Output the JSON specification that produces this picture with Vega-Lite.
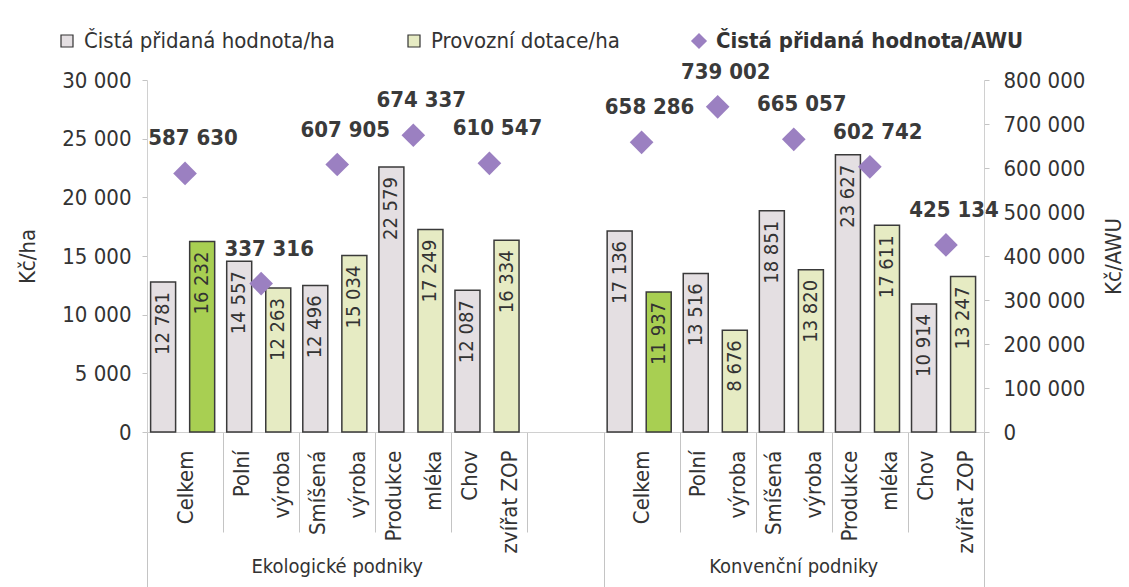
{
  "$schema": "https://vega.github.io/schema/vega-lite/v6.json",
  "width": 837,
  "height": 352,
  "autosize": {"type": "none"},
  "padding": {"left": 147, "top": 80, "right": 145, "bottom": 155},
  "background": "white",
  "config": {
    "font": "DejaVu Sans Condensed, DejaVu Sans, sans-serif",
    "view": {"stroke": null},
    "axis": {
      "labelFont": "DejaVu Sans Condensed, DejaVu Sans, sans-serif",
      "titleFont": "DejaVu Sans Condensed, DejaVu Sans, sans-serif",
      "labelColor": "#333333",
      "titleColor": "#333333",
      "labelFontSize": 22,
      "titleFontSize": 22,
      "titleFontWeight": "normal",
      "grid": false,
      "domainColor": "#cccccc",
      "tickColor": "#c4c4c4"
    }
  },
  "datasets": {
    "bars": [
      {"kat": "E|Celkem", "cat": "Celkem", "series": "Čistá přidaná hodnota/ha", "value": 12781},
      {"kat": "E|Celkem", "cat": "Celkem", "series": "Provozní dotace/ha", "value": 16232},
      {"kat": "E|Polní|výroba", "cat": "Polní výroba", "series": "Čistá přidaná hodnota/ha", "value": 14557},
      {"kat": "E|Polní|výroba", "cat": "Polní výroba", "series": "Provozní dotace/ha", "value": 12263},
      {"kat": "E|Smíšená|výroba", "cat": "Smíšená výroba", "series": "Čistá přidaná hodnota/ha", "value": 12496},
      {"kat": "E|Smíšená|výroba", "cat": "Smíšená výroba", "series": "Provozní dotace/ha", "value": 15034},
      {"kat": "E|Produkce|mléka", "cat": "Produkce mléka", "series": "Čistá přidaná hodnota/ha", "value": 22579},
      {"kat": "E|Produkce|mléka", "cat": "Produkce mléka", "series": "Provozní dotace/ha", "value": 17249},
      {"kat": "E|Chov|zvířat ZOP", "cat": "Chov zvířat ZOP", "series": "Čistá přidaná hodnota/ha", "value": 12087},
      {"kat": "E|Chov|zvířat ZOP", "cat": "Chov zvířat ZOP", "series": "Provozní dotace/ha", "value": 16334},
      {"kat": "K|Celkem", "cat": "Celkem", "series": "Čistá přidaná hodnota/ha", "value": 17136},
      {"kat": "K|Celkem", "cat": "Celkem", "series": "Provozní dotace/ha", "value": 11937},
      {"kat": "K|Polní|výroba", "cat": "Polní výroba", "series": "Čistá přidaná hodnota/ha", "value": 13516},
      {"kat": "K|Polní|výroba", "cat": "Polní výroba", "series": "Provozní dotace/ha", "value": 8676},
      {"kat": "K|Smíšená|výroba", "cat": "Smíšená výroba", "series": "Čistá přidaná hodnota/ha", "value": 18851},
      {"kat": "K|Smíšená|výroba", "cat": "Smíšená výroba", "series": "Provozní dotace/ha", "value": 13820},
      {"kat": "K|Produkce|mléka", "cat": "Produkce mléka", "series": "Čistá přidaná hodnota/ha", "value": 23627},
      {"kat": "K|Produkce|mléka", "cat": "Produkce mléka", "series": "Provozní dotace/ha", "value": 17611},
      {"kat": "K|Chov|zvířat ZOP", "cat": "Chov zvířat ZOP", "series": "Čistá přidaná hodnota/ha", "value": 10914},
      {"kat": "K|Chov|zvířat ZOP", "cat": "Chov zvířat ZOP", "series": "Provozní dotace/ha", "value": 13247}
    ],
    "awu": [
      {"kat": "E|Celkem", "series": "Čistá přidaná hodnota/AWU", "awu": 587630},
      {"kat": "E|Polní|výroba", "series": "Čistá přidaná hodnota/AWU", "awu": 337316},
      {"kat": "E|Smíšená|výroba", "series": "Čistá přidaná hodnota/AWU", "awu": 607905},
      {"kat": "E|Produkce|mléka", "series": "Čistá přidaná hodnota/AWU", "awu": 674337},
      {"kat": "E|Chov|zvířat ZOP", "series": "Čistá přidaná hodnota/AWU", "awu": 610547},
      {"kat": "K|Celkem", "series": "Čistá přidaná hodnota/AWU", "awu": 658286},
      {"kat": "K|Polní|výroba", "series": "Čistá přidaná hodnota/AWU", "awu": 739002},
      {"kat": "K|Smíšená|výroba", "series": "Čistá přidaná hodnota/AWU", "awu": 665057},
      {"kat": "K|Produkce|mléka", "series": "Čistá přidaná hodnota/AWU", "awu": 602742},
      {"kat": "K|Chov|zvířat ZOP", "series": "Čistá přidaná hodnota/AWU", "awu": 425134}
    ],
    "groups": [
      {"skupina": "Ekologické podniky"},
      {"skupina": "Konvenční podniky"}
    ]
  },
  "layer": [
    {
      "layer": [
        {
          "data": {"name": "bars"},
          "layer": [
            {
              "mark": {"type": "bar", "stroke": "#3a3a3a", "strokeWidth": 1.5},
              "encoding": {
                "x": {
                  "field": "kat", "type": "nominal",
                  "scale": {"domain": ["E|Celkem", "E|Polní|výroba", "E|Smíšená|výroba", "E|Produkce|mléka", "E|Chov|zvířat ZOP", "gap", "K|Celkem", "K|Polní|výroba", "K|Smíšená|výroba", "K|Produkce|mléka", "K|Chov|zvířat ZOP"], "paddingInner": 0, "paddingOuter": 0},
                  "axis": {
                    "orient": "bottom", "title": null, "domain": true, "domainColor": "#d0d0d0",
                    "tickBand": "extent", "tickSize": 100, "tickColor": "#c4c4c4", "tickWidth": 1,
                    "labelAngle": -90, "labelAlign": "right", "labelBaseline": "middle",
                    "labelPadding": -82, "labelLineHeight": 40, "labelOffset": -20, "labelOverlap": false, "labelBound": false,
                    "labelExpr": "!isString(datum.value) || datum.value == 'gap' || length(split(datum.value, '|')) < 3 ? '' : [split(datum.value, '|')[1], split(datum.value, '|')[2]]"
                  }
                },
                "xOffset": {"field": "series", "type": "nominal", "scale": {"domain": ["Čistá přidaná hodnota/ha", "Provozní dotace/ha"], "paddingInner": 0.36, "paddingOuter": 0.154, "align": 0.3}},
                "y": {
                  "field": "value", "type": "quantitative",
                  "scale": {"domain": [0, 30000], "nice": false},
                  "axis": {"orient": "left", "title": "Kč/ha", "values": [0, 5000, 10000, 15000, 20000, 25000, 30000], "labelExpr": "isNumber(datum.value) ? replace(format(datum.value, ','), ',', ' ') : ''", "domain": true, "domainColor": "#d0d0d0", "tickSize": 5, "labelPadding": 11, "titlePadding": 22}
                },
                "fill": {
                  "condition": {"test": "datum.cat == 'Celkem' && datum.series == 'Provozní dotace/ha'", "value": "#a8cf52"},
                  "field": "series", "type": "nominal",
                  "scale": {"domain": ["Čistá přidaná hodnota/ha", "Provozní dotace/ha", "Čistá přidaná hodnota/AWU"], "range": ["#e4dfe2", "#e6ebc3", "#9b80c1"]},
                  "legend": {
                    "orient": "none", "legendX": -91, "legendY": -50, "direction": "horizontal", "columns": 3, "title": null,
                    "labelFontSize": 22, "labelColor": "#333333", "columnPadding": 68, "labelOffset": 6, "symbolSize": 144, "labelLimit": 500, "padding": 0,
                    "symbolStrokeColor": "#333333", "symbolStrokeWidth": 1.2, "symbolType": "square",
                    "encode": {
                      "symbols": {"update": {
                        "shape": {"signal": "datum.value === 'Čistá přidaná hodnota/AWU' ? 'diamond' : 'square'"},
                        "strokeWidth": {"signal": "datum.value === 'Čistá přidaná hodnota/AWU' ? 0 : 1.2"},
                        "size": {"signal": "datum.value === 'Čistá přidaná hodnota/AWU' ? 260 : 144"}
                      }},
                      "labels": {"update": {
                        "fontWeight": {"signal": "datum.value === 'Čistá přidaná hodnota/AWU' ? 'bold' : 'normal'"}
                      }}
                    }
                  }
                }
              }
            },
            {
              "mark": {"type": "text", "angle": 270, "align": "right", "baseline": "middle", "dx": -10, "fontSize": 20, "color": "#333333"},
              "encoding": {
                "x": {"field": "kat", "type": "nominal"},
                "xOffset": {"field": "series", "type": "nominal"},
                "y": {"field": "value", "type": "quantitative"},
                "text": {"value": {"expr": "replace(format(datum.value, ','), ',', ' ')"}}
              }
            }
          ]
        },
        {
          "data": {"name": "awu"},
          "layer": [
            {
              "mark": {"type": "point", "shape": "diamond", "filled": true, "size": 560, "opacity": 1, "strokeWidth": 0},
              "encoding": {
                "x": {"field": "kat", "type": "nominal"},
                "y": {
                  "field": "awu", "type": "quantitative",
                  "scale": {"domain": [0, 800000], "nice": false},
                  "axis": {"orient": "right", "title": "Kč/AWU", "values": [0, 100000, 200000, 300000, 400000, 500000, 600000, 700000, 800000], "labelExpr": "isNumber(datum.value) ? replace(format(datum.value, ','), ',', ' ') : ''", "domain": true, "domainColor": "#d0d0d0", "tickSize": 5, "labelPadding": 14, "titlePadding": 19, "titleAngle": 270, "titleBaseline": "top"}
                },
                "fill": {"field": "series", "type": "nominal"}
              }
            },
            {
              "mark": {"type": "text", "align": "center", "baseline": "middle", "dx": 8, "dy": -35, "fontSize": 22, "fontWeight": "bold", "color": "#3a3a3a"},
              "encoding": {
                "x": {"field": "kat", "type": "nominal"},
                "y": {"field": "awu", "type": "quantitative"},
                "text": {"value": {"expr": "replace(format(datum.awu, ','), ',', ' ')"}}
              }
            }
          ]
        }
      ],
      "resolve": {"scale": {"y": "independent"}}
    },
    {
      "data": {"name": "groups"},
      "mark": {"type": "rule", "opacity": 0},
      "encoding": {
        "x": {
          "datum": 0, "type": "quantitative",
          "scale": {"domain": [0, 11], "nice": false, "zero": false},
          "axis": {"orient": "bottom", "title": null, "domain": false, "grid": false, "values": [0, 6, 11], "tickSize": 155, "tickColor": "#c4c4c4", "tickWidth": 1, "labels": false}
        }
      }
    },
    {
      "data": {"name": "groups"},
      "mark": {"type": "rule", "opacity": 0},
      "encoding": {
        "x": {
          "datum": 0, "type": "quantitative",
          "scale": {"domain": [0, 11], "nice": false, "zero": false},
          "axis": {"orient": "bottom", "title": null, "domain": false, "grid": false, "values": [0.5, 6.5], "tickSize": 100, "tickOpacity": 0, "tickColor": "#ffffff", "labelExpr": "'Celkem'", "labelAngle": -90, "labelAlign": "right", "labelBaseline": "middle", "labelPadding": -82, "labelFontSize": 22, "labelColor": "#333333", "labelOverlap": false, "labelBound": false, "labelFlush": false}
        }
      }
    },
    {
      "data": {"name": "groups"},
      "mark": {"type": "rule", "opacity": 0},
      "encoding": {
        "x": {
          "field": "skupina", "type": "nominal",
          "scale": {"type": "band", "domain": ["Ekologické podniky", "Konvenční podniky"], "paddingInner": 0.1666667, "paddingOuter": 0},
          "axis": {"orient": "bottom", "title": null, "domain": false, "tickSize": 155, "tickOpacity": 0, "tickColor": "#ffffff", "labelAngle": 0, "labelAlign": "center", "labelBaseline": "top", "labelPadding": -31, "labelFontSize": 20, "labelColor": "#333333", "labelExpr": "isString(datum.value) ? datum.value : ''"}
        }
      }
    }
  ],
  "resolve": {"scale": {"x": "independent"}, "axis": {"x": "independent"}}
}
